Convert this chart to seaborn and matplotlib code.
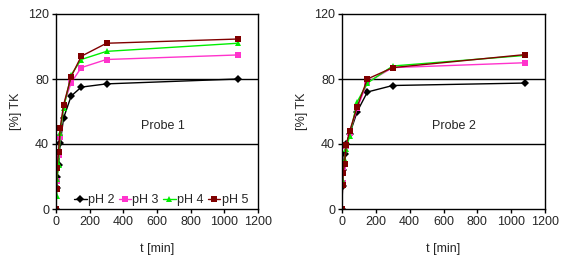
import matplotlib
matplotlib.use("Agg")
import matplotlib.pyplot as plt
import seaborn as sns
import pandas as pd

# time points [min]
t = [0, 3, 6, 15, 25, 45, 90, 150, 300, 1080]

# Probe 1
p1_ph2 = [0, 13, 20, 27, 40.5, 56, 69.5, 75, 77, 80]
p1_ph3 = [0, 17, 25, 33, 44.5, 64, 77.7, 87, 92, 94.8]
p1_ph4 = [0, 8, 18.5, 27, 47, 62, 82.5, 92, 97, 102]
p1_ph5 = [0, 12.3, 25, 35, 50, 64, 81.5, 94, 102, 104.6]

# Probe 2
p2_ph2 = [0, 14, 24, 34, 40, 46, 60, 72, 76, 77.5]
p2_ph3 = [0, 16, 24, 28, 39, 47, 62, 78, 87, 90]
p2_ph4 = [0, 17, 22, 30, 37, 45, 66, 77.5, 88, 94.5]
p2_ph5 = [0, 15, 22, 27.8, 39.5, 47.8, 63, 80, 87, 95]

series_names = ["pH 2", "pH 3", "pH 4", "pH 5"]
colors = ["#000000", "#FF33CC", "#00EE00", "#800000"]
markers = ["D", "s", "^", "s"]
titles = ["Probe 1", "Probe 2"]
xticks = [0, 200, 400, 600, 800, 1000, 1200]
yticks = [0, 40, 80, 120]


def make_df(series):
    rows = []
    for name, vals in zip(series_names, series):
        for ti, v in zip(t, vals):
            rows.append({"t": ti, "TK": v, "pH": name})
    return pd.DataFrame(rows)


sns.set_style("white")
plt.rcParams["font.family"] = ["Liberation Sans", "DejaVu Sans"]
plt.rcParams["font.size"] = 9

fig = plt.figure(figsize=(5.7, 2.61), dpi=100)
ax1 = fig.add_axes([56 / 570, 52 / 261, 202 / 570, 195 / 261])
ax2 = fig.add_axes([342 / 570, 52 / 261, 203 / 570, 195 / 261])

datasets = [[p1_ph2, p1_ph3, p1_ph4, p1_ph5], [p2_ph2, p2_ph3, p2_ph4, p2_ph5]]
msizes = {"pH 2": 4, "pH 3": 4.5, "pH 4": 4.5, "pH 5": 4.5}

for i, (ax, data, title) in enumerate(zip([ax1, ax2], datasets, titles)):
    df = make_df(data)
    for name, col, mk in zip(series_names, colors, markers):
        sub = df[df["pH"] == name]
        sns.lineplot(data=sub, x="t", y="TK", ax=ax, color=col, marker=mk,
                     markersize=msizes[name], markeredgewidth=0, linewidth=1,
                     label=name if i == 0 else None, legend=False)
    ax.set_xlim(0, 1200)
    ax.set_ylim(0, 120)
    ax.set_xticks(xticks)
    ax.set_yticks(yticks)
    ax.set_xticklabels([str(x) for x in xticks], fontsize=9)
    ax.set_yticklabels([str(y) for y in yticks], fontsize=9)
    for y in [40, 80]:
        ax.axhline(y, color="black", linewidth=1, zorder=0)
    for s in ax.spines.values():
        s.set_visible(True)
        s.set_color("black")
        s.set_linewidth(1)
    ax.tick_params(axis="both", which="both", length=3, width=1, color="black",
                   direction="out", bottom=True, left=True, pad=2)
    ax.set_xlabel("t [min]", fontsize=9, labelpad=11)
    ax.set_ylabel("[%] TK", fontsize=9, labelpad=4)
    ax.text(0.53 if i == 0 else 0.55, 0.425, title, transform=ax.transAxes,
            ha="center", va="center", fontsize=9)

handles, labels = ax1.get_legend_handles_labels()
ax1.legend(handles, labels, loc="center", ncol=4, frameon=False,
           handlelength=1.0, handletextpad=0.1, columnspacing=0.35,
           borderaxespad=0.0, borderpad=0.0, fontsize=9,
           bbox_to_anchor=(0.52, 0.045))

fig.savefig("out.png", dpi=100)
